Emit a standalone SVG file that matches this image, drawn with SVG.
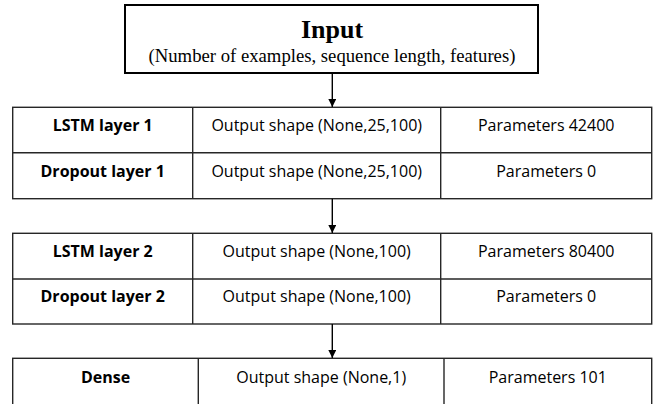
<svg xmlns="http://www.w3.org/2000/svg" width="657" height="404" viewBox="0 0 657 404">
<style>
.cell{fill:#fff;stroke:#262626;stroke-width:1.4}
.b{font-family:"Open Sans","Liberation Sans",sans-serif;font-weight:bold;font-size:16px;fill:#000;text-anchor:middle}
.r{font-family:"Open Sans","Liberation Sans",sans-serif;font-size:16px;fill:#000;text-anchor:middle}
.conn{stroke:#000;stroke-width:1.4;fill:none}
</style>
<defs>
<marker id="ah" markerWidth="8" markerHeight="8" refX="8" refY="4" orient="auto" markerUnits="userSpaceOnUse">
<path d="M0,0 L8,4 L0,8 Z" fill="#000"/>
</marker>
</defs>
<rect width="657" height="404" fill="#fff"/>
<g id="input">
<rect x="125" y="5" width="413" height="68" fill="#fff" stroke="#000" stroke-width="2"/>
<text x="332" y="38" font-family="'Liberation Serif',serif" font-weight="bold" font-size="26" text-anchor="middle">Input</text>
<text x="332" y="61.5" font-family="'Liberation Serif',serif" font-size="18.7" text-anchor="middle">(Number of examples, sequence length, features)</text>
</g>
<g id="block1">
<rect class="cell" x="12.7" y="107.3" width="639" height="91.4"/>
<line class="cell" x1="12.7" y1="152.7" x2="651.7" y2="152.7"/>
<line class="cell" x1="192.7" y1="107.3" x2="192.7" y2="198.7"/>
<line class="cell" x1="440.7" y1="107.3" x2="440.7" y2="198.7"/>
<text class="b" x="102.7" y="131">LSTM layer 1</text>
<text class="r" x="316.7" y="131">Output shape (None,25,100)</text>
<text class="r" x="546.2" y="131">Parameters 42400</text>
<text class="b" x="102.7" y="176.5">Dropout layer 1</text>
<text class="r" x="316.7" y="176.5">Output shape (None,25,100)</text>
<text class="r" x="546.2" y="176.5">Parameters 0</text>
</g>
<g id="block2">
<rect class="cell" x="12.7" y="233.3" width="639" height="90.7"/>
<line class="cell" x1="12.7" y1="279" x2="651.7" y2="279"/>
<line class="cell" x1="192.7" y1="233.3" x2="192.7" y2="324"/>
<line class="cell" x1="440.7" y1="233.3" x2="440.7" y2="324"/>
<text class="b" x="102.7" y="257">LSTM layer 2</text>
<text class="r" x="316.7" y="257">Output shape (None,100)</text>
<text class="r" x="546.2" y="257">Parameters 80400</text>
<text class="b" x="102.7" y="301.5">Dropout layer 2</text>
<text class="r" x="316.7" y="301.5">Output shape (None,100)</text>
<text class="r" x="546.2" y="301.5">Parameters 0</text>
</g>
<g id="block3">
<rect class="cell" x="12.7" y="358.3" width="639" height="50"/>
<line class="cell" x1="198.3" y1="358.3" x2="198.3" y2="408"/>
<line class="cell" x1="444" y1="358.3" x2="444" y2="408"/>
<text class="b" x="105.5" y="382.5">Dense</text>
<text class="r" x="321.2" y="382.5">Output shape (None,1)</text>
<text class="r" x="547.8" y="382.5">Parameters 101</text>
</g>
<g id="connectors">
<line class="conn" x1="332.3" y1="73" x2="332.3" y2="107" marker-end="url(#ah)"/>
<line class="conn" x1="332.3" y1="198.7" x2="332.3" y2="233" marker-end="url(#ah)"/>
<line class="conn" x1="332.3" y1="324" x2="332.3" y2="358" marker-end="url(#ah)"/>
</g>
</svg>
